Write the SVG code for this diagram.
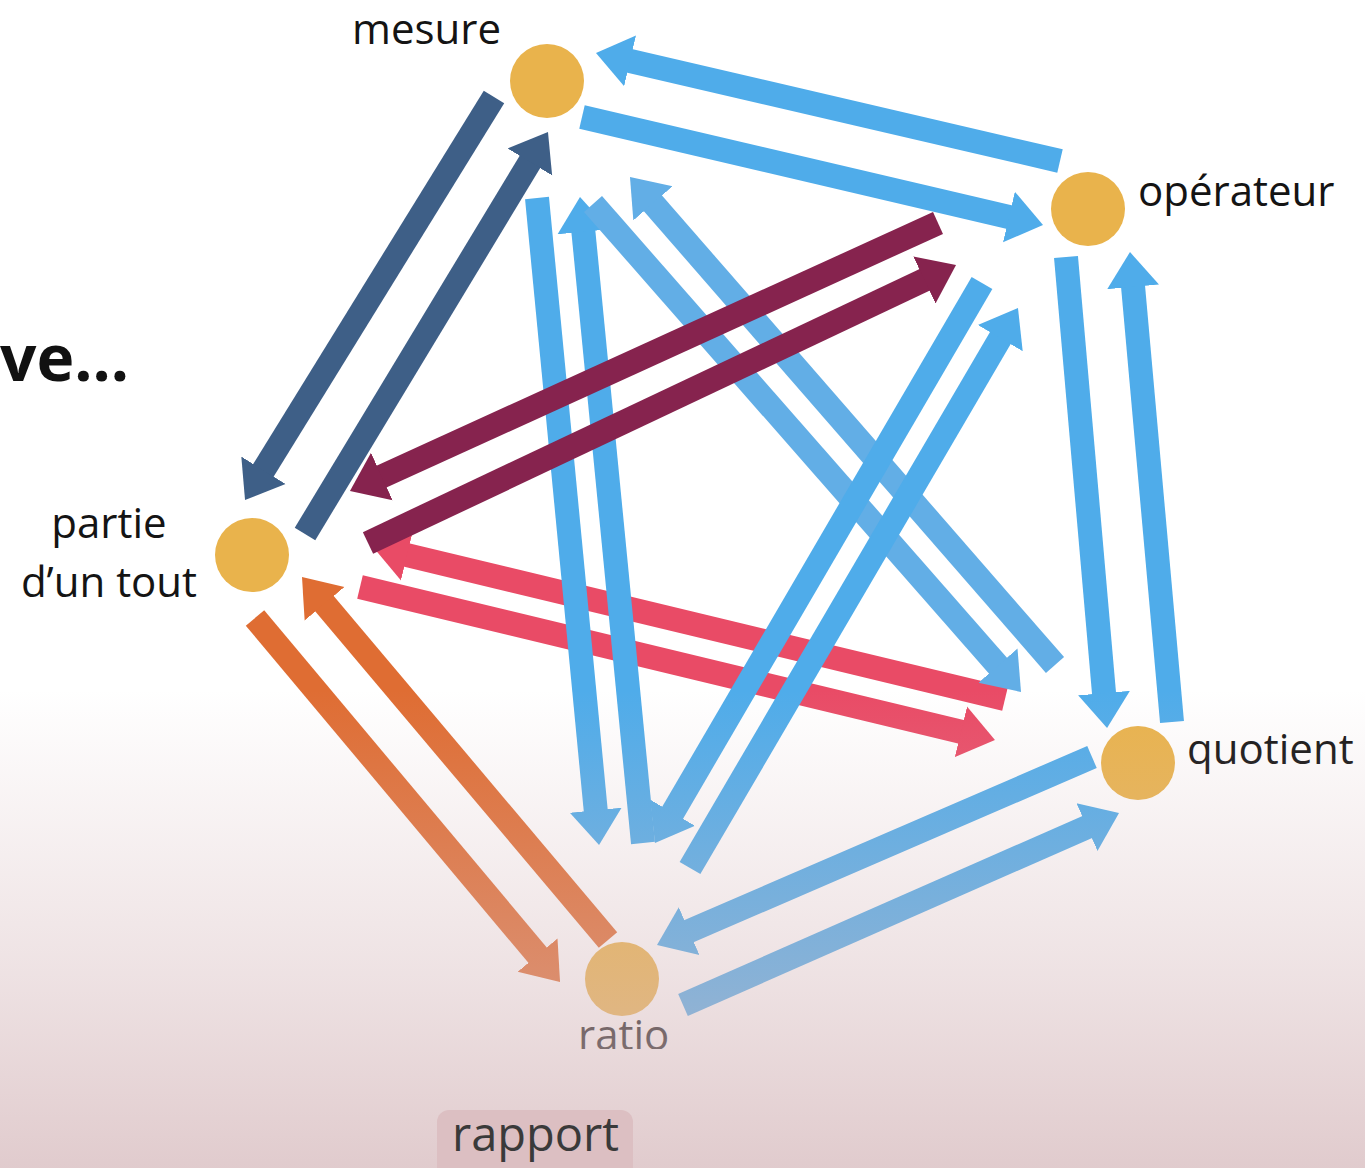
<svg xmlns="http://www.w3.org/2000/svg" width="1365" height="1168" viewBox="0 0 1365 1168">
<style>
.lbl{font-family:"Open Sans","Noto Sans",sans-serif;font-size:42px;fill:#141414}
.node{fill:#e9b34c}
.a{fill:none;stroke-width:24;stroke-linecap:butt}
.db{stroke:#3e5f87}.bl{stroke:#4facea}.lb{stroke:#62aee6}.mr{stroke:#86234e}.rd{stroke:#e94b66}.or{stroke:#df6d33}
</style>
<defs>
<marker id="hdb" markerUnits="userSpaceOnUse" viewBox="-1 -27 36 54" markerWidth="36" markerHeight="54" refX="0" refY="0" orient="auto"><path d="M-1,-26 L34,0 L-1,26 Z" fill="#3e5f87"/></marker>
<marker id="hbl" markerUnits="userSpaceOnUse" viewBox="-1 -27 36 54" markerWidth="36" markerHeight="54" refX="0" refY="0" orient="auto"><path d="M-1,-26 L34,0 L-1,26 Z" fill="#4facea"/></marker>
<marker id="hlb" markerUnits="userSpaceOnUse" viewBox="-1 -27 36 54" markerWidth="36" markerHeight="54" refX="0" refY="0" orient="auto"><path d="M-1,-26 L34,0 L-1,26 Z" fill="#62aee6"/></marker>
<marker id="hmr" markerUnits="userSpaceOnUse" viewBox="-1 -27 36 54" markerWidth="36" markerHeight="54" refX="0" refY="0" orient="auto"><path d="M-1,-26 L34,0 L-1,26 Z" fill="#86234e"/></marker>
<marker id="hrd" markerUnits="userSpaceOnUse" viewBox="-1 -27 36 54" markerWidth="36" markerHeight="54" refX="0" refY="0" orient="auto"><path d="M-1,-26 L34,0 L-1,26 Z" fill="#e94b66"/></marker>
<marker id="hor" markerUnits="userSpaceOnUse" viewBox="-1 -27 36 54" markerWidth="36" markerHeight="54" refX="0" refY="0" orient="auto"><path d="M-1,-26 L34,0 L-1,26 Z" fill="#df6d33"/></marker>
<linearGradient id="fade" x1="0" y1="0" x2="0" y2="1">
<stop offset="0" stop-color="#d6b9bc" stop-opacity="0"/>
<stop offset="0.6" stop-color="#d6b9bc" stop-opacity="0.42"/>
<stop offset="1" stop-color="#d6b9bc" stop-opacity="0.74"/>
</linearGradient>
<clipPath id="cut"><rect x="0" y="0" width="1365" height="1049"/></clipPath>
</defs>
<rect width="1365" height="1168" fill="#ffffff"/>
<g clip-path="url(#cut)">
<text x="0" y="381" font-family="'Open Sans','Noto Sans',sans-serif" font-weight="700" font-size="64" fill="#111">ve...</text>
<g id="connectors">
<line class="a rd" x1="360" y1="587" x2="961.9" y2="732" marker-end="url(#hrd)"/>
<line class="a rd" x1="1005" y1="699" x2="406.1" y2="554.9" marker-end="url(#hrd)"/>
<line class="a bl" x1="537" y1="198" x2="595.8" y2="811.2" marker-end="url(#hbl)"/>
<line class="a bl" x1="643" y1="843" x2="583.3" y2="230.8" marker-end="url(#hbl)"/>
<line class="a lb" x1="593" y1="204" x2="998.6" y2="666.4" marker-end="url(#hlb)"/>
<line class="a lb" x1="1055" y1="665" x2="652.3" y2="202.6" marker-end="url(#hlb)"/>
<line class="a bl" x1="982" y1="283" x2="672.1" y2="813.6" marker-end="url(#hbl)"/>
<line class="a bl" x1="690" y1="868" x2="1000.8" y2="337.3" marker-end="url(#hbl)"/>
<line class="a mr" x1="368" y1="543" x2="925.3" y2="279.5" marker-end="url(#hmr)"/>
<line class="a mr" x1="938" y1="223" x2="380.9" y2="476.9" marker-end="url(#hmr)"/>
<line class="a db" x1="494" y1="97" x2="262.9" y2="471.1" marker-end="url(#hdb)"/>
<line class="a db" x1="305" y1="534" x2="530.4" y2="161.1" marker-end="url(#hdb)"/>
<line class="a bl" x1="1060" y1="161" x2="629.1" y2="60.7" marker-end="url(#hbl)"/>
<line class="a bl" x1="582" y1="117" x2="1009.9" y2="217.2" marker-end="url(#hbl)"/>
<line class="a bl" x1="1066" y1="257" x2="1104.1" y2="694.1" marker-end="url(#hbl)"/>
<line class="a bl" x1="1172" y1="722" x2="1133" y2="285.9" marker-end="url(#hbl)"/>
<line class="a bl" x1="1092" y1="757" x2="688.2" y2="931.5" marker-end="url(#hbl)"/>
<line class="a bl" x1="683" y1="1005" x2="1087.9" y2="826.7" marker-end="url(#hbl)"/>
<line class="a or" x1="255" y1="618" x2="538.2" y2="955.9" marker-end="url(#hor)"/>
<line class="a or" x1="608" y1="940" x2="323.9" y2="603" marker-end="url(#hor)"/>
</g>
<g id="node-mesure"><circle class="node" cx="547" cy="81" r="37"/><text class="lbl" x="352" y="44">mesure</text></g>
<g id="node-operateur"><circle class="node" cx="1088" cy="209" r="37"/><text class="lbl" x="1138" y="206">opérateur</text></g>
<g id="node-quotient"><circle class="node" cx="1138" cy="763" r="37"/><text class="lbl" x="1187" y="764">quotient</text></g>
<g id="node-partie"><circle class="node" cx="252" cy="555" r="37"/><text class="lbl" x="109" y="538" text-anchor="middle">partie</text><text class="lbl" x="109" y="597" text-anchor="middle">d’un tout</text></g>
<g id="node-ratio"><circle class="node" cx="622" cy="979" r="37"/><text class="lbl" x="578" y="1050">ratio</text></g>
</g>
<rect x="0" y="690" width="1365" height="478" fill="url(#fade)"/>
<g id="node-rapport"><rect x="437" y="1110" width="196" height="72" rx="12" fill="#dcbfc2"/><text x="452" y="1151" font-family="'Open Sans','Noto Sans',sans-serif" font-size="47" fill="#3a3a3a">rapport</text></g>
</svg>
